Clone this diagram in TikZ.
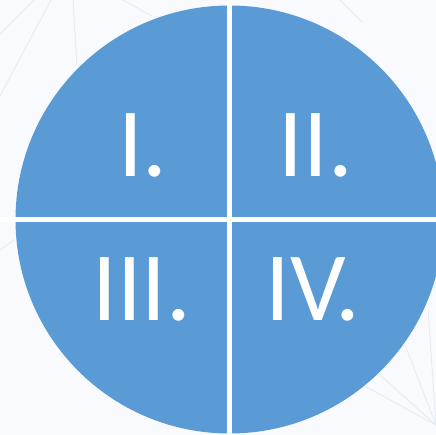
\documentclass[tikz,border=0pt]{standalone}
\usepackage{fontspec}
\setmainfont{Carlito}
\definecolor{bgc}{RGB}{249,250,253}
\definecolor{faint}{RGB}{230,234,244}
\definecolor{quad}{RGB}{91,155,213}
\tikzset{
  faintline/.style={draw=faint, line width=0.8pt},
  gapline/.style={draw=white, line width=4.6pt},
  numeral/.style={text=white, font=\fontsize{98}{98}\selectfont, inner sep=0pt, anchor=center}
}
\begin{document}
\begin{tikzpicture}[x=1pt,y=-1pt]
\useasboundingbox (0,0) rectangle (436,435);
\fill[bgc] (0,0) rectangle (436,435);
\begin{scope}
\clip (0,0) rectangle (436,435);
% faint background lines
\draw[faintline] (34,0) -- (0,34);
\draw[faintline] (51,0) -- (0,96);
\draw[faintline] (73,0) -- (77,66);
\draw[faintline] (123,0) -- (152,16);
\draw[faintline] (0,250) -- (14,240);
\draw[faintline] (436,425) -- (372,368);
\draw[faintline] (436,425) -- (405,345);
\draw[faintline] (436,425) -- (428,309);
\draw[faintline] (436,425) -- (350,378);
\draw[faintline] (340,0) -- (362,22);
% pie
\coordinate (c) at (229.5,219.5);
\fill[quad] (c) circle[radius=214];
\draw[gapline] (229.5,0) -- (229.5,435);
\draw[gapline] (0,219.5) -- (436,219.5);
\end{scope}
\node[numeral] (q1) at (143,145) {I.};
\node[numeral] (q2) at (316,145) {II.};
\node[numeral] (q3) at (142,289) {III.};
\node[numeral] (q4) at (313,289) {IV.};
\end{tikzpicture}
\end{document}
